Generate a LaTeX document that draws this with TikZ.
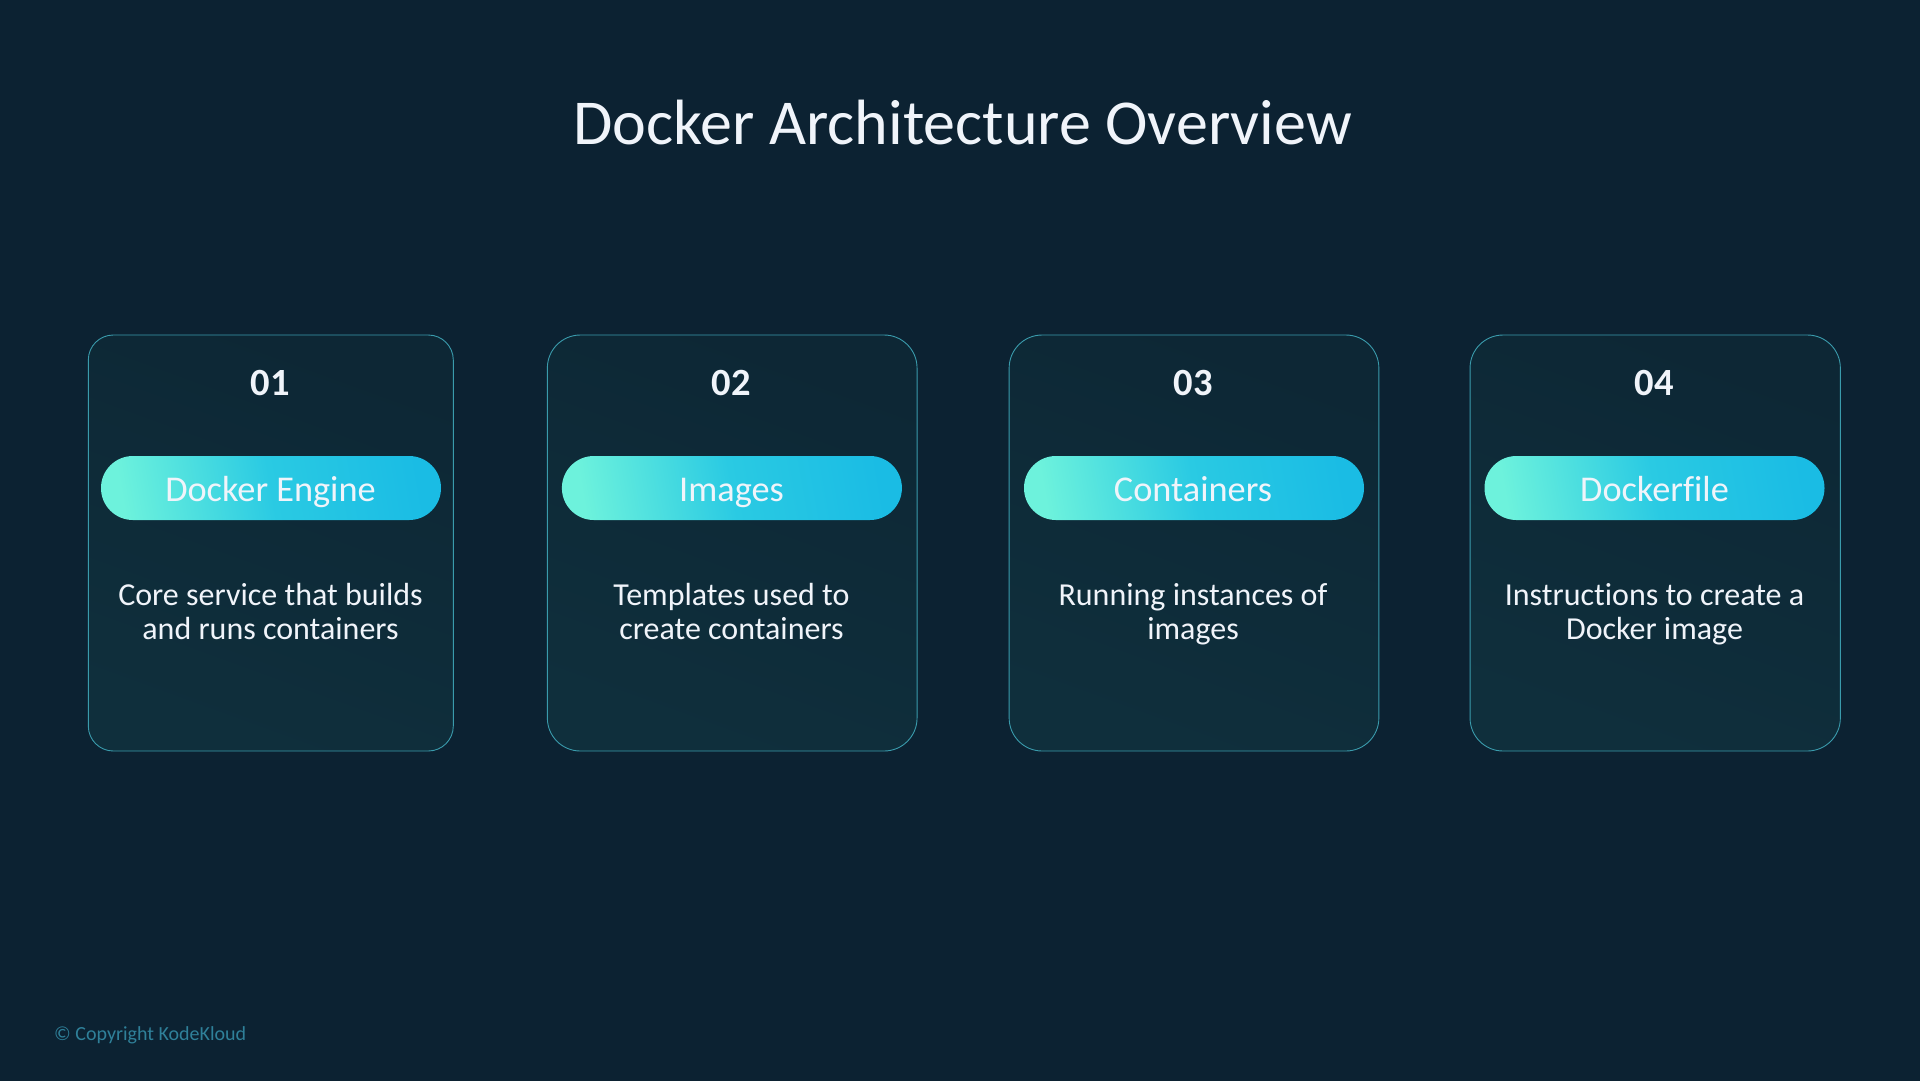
\documentclass[tikz,border=0pt]{standalone}
\usepackage{xcolor}
\usepackage{fontspec}
\setmainfont[Ligatures=NoCommon]{Carlito}
\usetikzlibrary{positioning}
\usetikzlibrary{math}
\usetikzlibrary{calc}
\definecolor{slidebg}{HTML}{0C2232}
\definecolor{cardedge}{HTML}{3A9BAC}
\definecolor{cardlo}{HTML}{0F2F3C}
\definecolor{cardhi}{HTML}{0D2735}
\definecolor{pillleft}{HTML}{6DF2DC}
\definecolor{pillmid}{HTML}{2ACAE3}
\definecolor{pillright}{HTML}{1ABCE4}
\definecolor{labelwhite}{HTML}{F0F4FA}
\definecolor{footnote}{HTML}{2F8099}
\tikzset{
  cardbox/.style={draw=cardedge, line width=0.9pt, rounded corners=#1, minimum height=416pt,
    inner sep=0pt, outer sep=0pt, top color=cardhi, bottom color=cardlo, shading angle=-20},
  pillbox/.style={rounded corners=31.9pt, minimum width=340pt, minimum height=64pt, inner sep=0pt,
    outer sep=0pt, left color=pillleft, right color=pillright, middle color=pillmid, shading angle=100},
  pilllabel/.style={text=labelwhite, font=\fontsize{36.3}{36.3}\selectfont, inner sep=0pt, anchor=base},
  numlabel/.style={text=labelwhite, font=\fontsize{38.5}{38.5}\selectfont\bfseries, inner sep=0pt, anchor=base},
  desclabel/.style={text=labelwhite, font=\fontsize{32}{34.6}\selectfont, align=center, inner sep=0pt, anchor=base}
}
\begin{document}
\begin{tikzpicture}[x=1pt,y=-1pt]

  \tikzmath{
    \cardmid  = 543;   % vertical centre of the cards
    \numbase  = 395;   % baseline of the numbers
    \pillmid  = 488;   % vertical centre of the pills
    \pillbase = 501.7; % baseline of the pill labels
    \descbase = 639.7; % baseline of the descriptions
  }

  % Slide background
  \useasboundingbox (0,0) rectangle (1920,1080);
  \fill[slidebg] (-5,-5) rectangle (1925,1085);

  \node[text=labelwhite, font=\fontsize{64}{64}\selectfont, inner sep=0pt, anchor=base] (title) at (962.5,144)
  {Docker Architecture Overview};

  % Card 1
  \node[cardbox=25pt, minimum width=365pt] (card1) at (270.8,\cardmid) {};
  \node[numlabel] (num1) at (270,\numbase) {01};
  \node[pillbox] (pill1) at (271,\pillmid) {};
  \node[pilllabel] (name1) at (270.5,\pillbase) {Docker Engine};
  \node[desclabel] (desc1) at (270.5,\descbase) {Core service that builds\\and runs containers};

  % Card 2
  \node[cardbox=33pt, minimum width=369.7pt] (card2) at (732.2,\cardmid) {};
  \node[numlabel] (num2) at (731.5,\numbase) {02};
  \node[pillbox] (pill2) at (731.9,\pillmid) {};
  \node[pilllabel] (name2) at (731.5,\pillbase) {Images};
  \node[desclabel] (desc2) at (731.5,\descbase) {Templates used to\\create containers};

  % Card 3
  \node[cardbox=33pt, minimum width=369.7pt] (card3) at (1194,\cardmid) {};
  \node[numlabel] (num3) at (1193,\numbase) {03};
  \node[pillbox] (pill3) at (1194,\pillmid) {};
  \node[pilllabel] (name3) at (1193,\pillbase) {Containers};
  \node[desclabel] (desc3) at (1193,\descbase) {Running instances of\\images};

  % Card 4
  \node[cardbox=33pt, minimum width=370.3pt] (card4) at (1655.2,\cardmid) {};
  \node[numlabel] (num4) at (1654,\numbase) {04};
  \node[pillbox] (pill4) at (1654.5,\pillmid) {};
  \node[pilllabel] (name4) at (1654.5,\pillbase) {Dockerfile};
  \node[desclabel] (desc4) at (1654.5,\descbase) {Instructions to create a\\Docker image};

  % Footer
  \node[text=footnote, font=\fontsize{20}{20}\selectfont, inner sep=0pt, anchor=base west] (copyright) at (54,1040)
  {© Copyright KodeKloud};

\end{tikzpicture}
\end{document}
